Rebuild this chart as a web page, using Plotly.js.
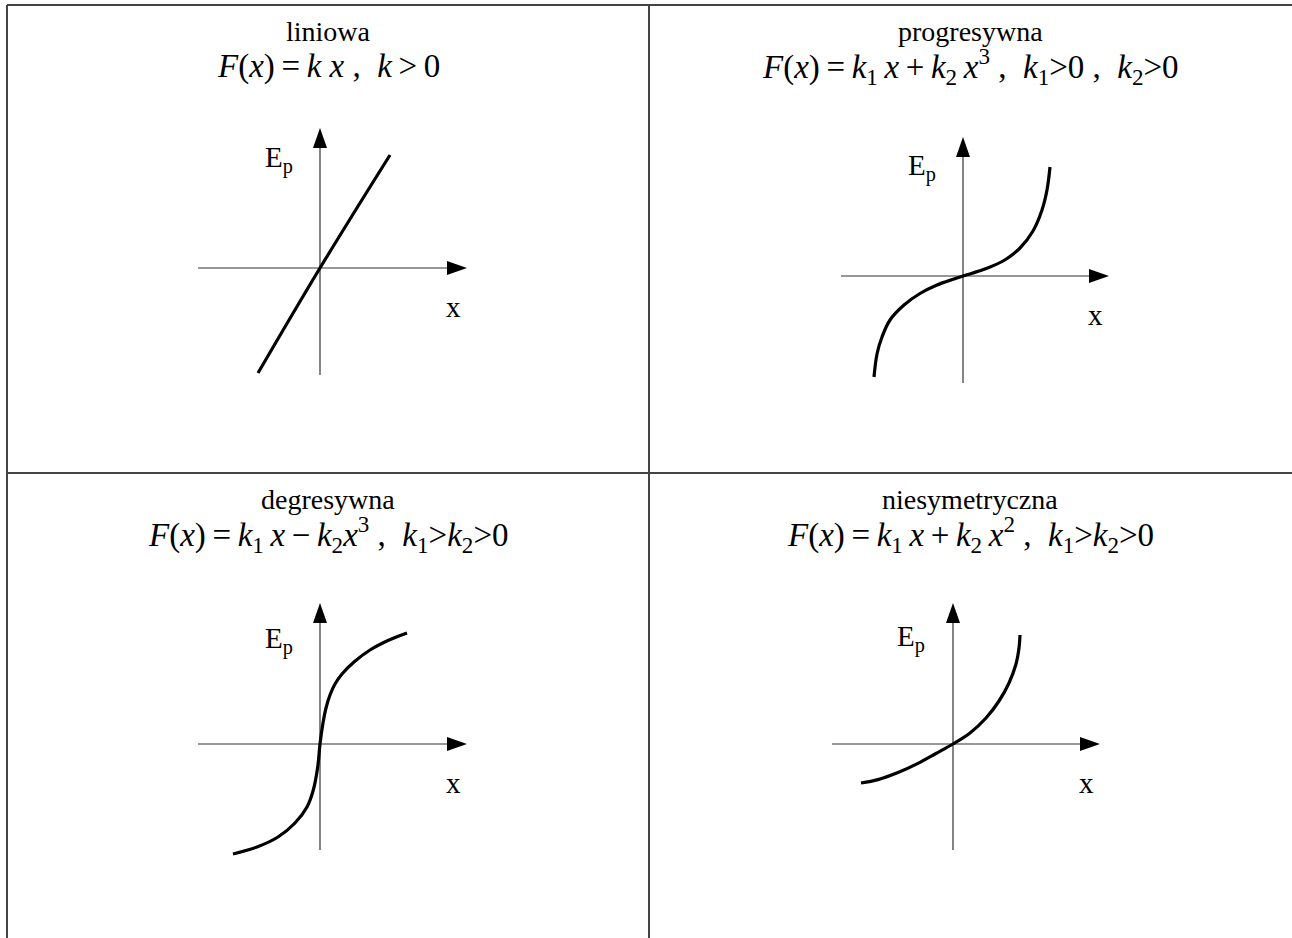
<!DOCTYPE html>
<html><head><meta charset="utf-8">
<script src="https://cdn.plot.ly/plotly-3.0.1.min.js"></script>
<style>html,body{margin:0;padding:0;background:#fff}#chart{width:1292px;height:938px}</style>
</head><body><div id="chart"></div>
<script>
// ---- data (curve values, origin at 0,0; y up) ----
const panelNames = ["liniowa", "progresywna", "degresywna", "niesymetryczna"];
const NB = "\u00A0", TS = "\u2009";
const formulas = [
  "<i>F</i>(<i>x</i>)" + TS + "=" + TS + "<i>k" + NB + "x</i>" + NB + "," + NB + NB + "<i>k</i>" + TS + "&gt;" + TS + "0",
  "<i>F</i>(<i>x</i>)" + TS + "=" + TS + "<i>k</i><sub>1</sub>" + TS + "<i>x</i>" + TS + "+" + TS + "<i>k</i><sub>2</sub>" + TS + "<i>x</i><sup>3</sup>" + NB + "," + NB + NB + "<i>k</i><sub>1</sub>&gt;0" + NB + "," + NB + NB + "<i>k</i><sub>2</sub>&gt;0",
  "<i>F</i>(<i>x</i>)" + TS + "=" + TS + "<i>k</i><sub>1</sub>" + TS + "<i>x</i>" + TS + "\u2212" + TS + "<i>k</i><sub>2</sub><i>x</i><sup>3</sup>" + NB + "," + NB + NB + "<i>k</i><sub>1</sub>&gt;<i>k</i><sub>2</sub>&gt;0",
  "<i>F</i>(<i>x</i>)" + TS + "=" + TS + "<i>k</i><sub>1</sub>" + TS + "<i>x</i>" + TS + "+" + TS + "<i>k</i><sub>2</sub>" + TS + "<i>x</i><sup>2</sup>" + NB + "," + NB + NB + "<i>k</i><sub>1</sub>&gt;<i>k</i><sub>2</sub>&gt;0"
];
const yAxisLabel = "E<sub>p</sub>";
const xAxisLabel = "x";

const liniowaX = [-62, 0, 70];
const liniowaY = [-105, 0, 113];
const progX = [-89, -86, -81, -73, -59, -43, -26, -9, 0, 9, 24, 41, 57, 70, 79, 84, 87];
const progY = [-101, -78, -61, -44, -29, -17.5, -9, -3, 0, 2.8, 7.8, 15.5, 28, 45, 66, 86, 109];
const degX = [-87, -63, -42, -25, -13, -6.7, -2.3, 0, 3, 6, 10, 15, 22, 34, 50, 68, 87];
const degY = [-110, -103, -93, -79, -63, -46, -23, 0, 21, 36, 49, 60, 70, 82, 94, 103.5, 111];
const niesX = [-92, -75, -55, -35, -17, 0, 17, 33, 46, 56, 63, 66, 67];
const niesY = [-39, -35.6, -28.6, -19.4, -9.5, 0, 11, 26, 43, 61, 80, 96, 109];
const seriesX = [liniowaX, progX, degX, niesX];
const seriesY = [liniowaY, progY, degY, niesY];

// ---- layout (pixel geometry) ----
const W = 1292, H = 938;
const panels = [
  {ox: 320, oy: 268, vBot: 375, vTip: 128, hLeft: 198, hTip: 467, cx: 328, top: 5,
   ep: [279, 160], xl: [453, 307]},
  {ox: 963, oy: 276, vBot: 383, vTip: 137, hLeft: 841, hTip: 1109, cx: 970, top: 5,
   ep: [922, 168], xl: [1095, 315]},
  {ox: 320, oy: 744, vBot: 850, vTip: 603, hLeft: 198, hTip: 467, cx: 328, top: 473,
   ep: [279, 640], xl: [453, 783]},
  {ox: 953, oy: 744, vBot: 850, vTip: 603, hLeft: 832, hTip: 1100, cx: 970, top: 473,
   ep: [911, 638], xl: [1086, 783]}
];
const AL = 20, AW = 7;   // arrow length / half width
const px = v => v / W;
const py = v => 1 - v / H;
const serif = '"Liberation Serif", "Times New Roman", serif';

const traces = [];
const shapes = [];
const annotations = [];
const layout = {
  width: W, height: H, margin: {l: 0, r: 0, t: 0, b: 0},
  paper_bgcolor: "#fff", plot_bgcolor: "rgba(0,0,0,0)",
  showlegend: false, hovermode: false
};

panels.forEach((p, i) => {
  const n = i + 1;
  const xa = "xaxis" + (n === 1 ? "" : n), ya = "yaxis" + (n === 1 ? "" : n);
  const xr = "x" + (n === 1 ? "" : n), yr = "y" + (n === 1 ? "" : n);
  const L = 160, R = 170, T = 160, B = 120;
  layout[xa] = {domain: [px(p.ox - L), px(p.ox + R)], range: [-L, R], visible: false,
                fixedrange: true, anchor: yr};
  layout[ya] = {domain: [py(p.oy + B), py(p.oy - T)], range: [-B, T], visible: false,
                fixedrange: true, anchor: xr};
  traces.push({x: seriesX[i], y: seriesY[i], xaxis: xr, yaxis: yr, type: "scatter",
               mode: "lines", line: {color: "#000", width: 3.2, shape: "spline", smoothing: 1}});
  const lc = {color: "#333", width: 1.2};
  const vTop = p.oy - p.vTip, vB = p.oy - p.vBot;
  const hR = p.hTip - p.ox, hL = p.hLeft - p.ox;
  shapes.push({type: "line", xref: xr, yref: yr, x0: 0, x1: 0, y0: vB, y1: vTop - AL, line: lc, layer: "below"});
  shapes.push({type: "line", xref: xr, yref: yr, x0: hL, x1: hR - AL, y0: 0, y1: 0, line: lc, layer: "below"});
  shapes.push({type: "path", xref: xr, yref: yr,
    path: `M ${-AW} ${vTop - AL} L ${AW} ${vTop - AL} L 0 ${vTop} Z`, fillcolor: "#000", line: {width: 0}});
  shapes.push({type: "path", xref: xr, yref: yr,
    path: `M ${hR - AL} ${-AW} L ${hR - AL} ${AW} L ${hR} 0 Z`, fillcolor: "#000", line: {width: 0}});

  annotations.push({xref: "paper", yref: "paper", x: px(p.ep[0]), y: py(p.ep[1]), text: yAxisLabel,
    showarrow: false, xanchor: "center", yanchor: "middle", font: {family: serif, size: 29, color: "#000"}});
  annotations.push({xref: "paper", yref: "paper", x: px(p.xl[0]), y: py(p.xl[1]), text: xAxisLabel,
    showarrow: false, xanchor: "center", yanchor: "middle", font: {family: serif, size: 29, color: "#000"}});
  annotations.push({xref: "paper", yref: "paper", x: px(p.cx), y: py(p.top + 26), text: panelNames[i],
    showarrow: false, xanchor: "center", yanchor: "middle", font: {family: serif, size: 28, color: "#000"}});
  annotations.push({xref: "paper", yref: "paper", x: px(p.cx), y: py(p.top + 61), text: formulas[i],
    showarrow: false, xanchor: "center", yanchor: "middle", font: {family: serif, size: 33, color: "#000"}});
});

// table borders
const bc = {color: "#444", width: 2};
shapes.push({type: "line", xref: "paper", yref: "paper", x0: px(7), x1: 1, y0: py(5), y1: py(5), line: bc});
shapes.push({type: "line", xref: "paper", yref: "paper", x0: px(7), x1: 1, y0: py(473), y1: py(473), line: bc});
shapes.push({type: "line", xref: "paper", yref: "paper", x0: px(7), x1: px(7), y0: py(5), y1: 0, line: bc});
shapes.push({type: "line", xref: "paper", yref: "paper", x0: px(649), x1: px(649), y0: py(5), y1: 0, line: bc});

layout.shapes = shapes;
layout.annotations = annotations;
Plotly.newPlot("chart", traces, layout, {staticPlot: true, displayModeBar: false});
</script></body></html>
